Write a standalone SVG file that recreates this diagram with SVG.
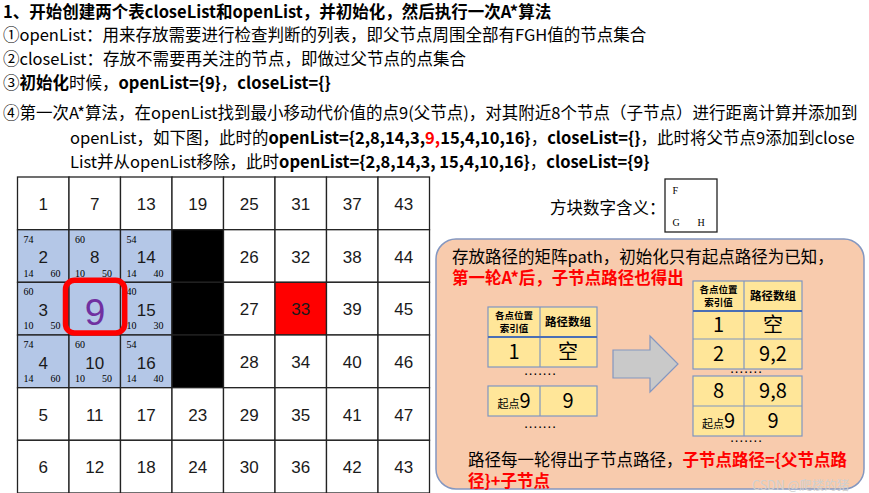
<svg xmlns="http://www.w3.org/2000/svg" width="869" height="493" viewBox="0 0 869 493">
<style>
.t{font-family:"Noto Sans CJK SC","Noto Sans",sans-serif;font-size:16.5px;fill:#000}
.b{font-weight:bold}
.r{fill:#FF0000}
.cell{stroke:#222;stroke-width:1.3}
.w{fill:#fff}
.bl{fill:#B4C7E7}
.k{fill:#000}
.rd{fill:#FF0000}
.n{font-family:"Liberation Sans",Arial,sans-serif;font-size:17px;text-anchor:middle;fill:#1a1a1a}
.s{font-family:"Liberation Serif","Times New Roman",serif;font-size:10px;fill:#000}
.tb{fill:#FFE699;stroke:#7F96C2;stroke-width:1.2}
.tl{stroke:#7F96C2;stroke-width:1.2}
.th{stroke:#4A6FB5;stroke-width:2}
.hd{font-family:"Noto Sans CJK SC",sans-serif;font-weight:bold;font-size:9.5px;text-anchor:middle;fill:#000}
.hd2{font-family:"Noto Sans CJK SC",sans-serif;font-weight:bold;font-size:11.5px;text-anchor:middle;fill:#000}
.v{font-family:"Noto Sans CJK SC",sans-serif;font-size:20px;text-anchor:middle;fill:#000}
.dots{font-family:"Liberation Sans",sans-serif;font-size:14px;text-anchor:middle;fill:#000}
</style>

<g id="header-text">
<text class="t b" x="3" y="18">1、开始创建两个表closeList和openList，并初始化，然后执行一次A*算法</text>
<text class="t" x="3" y="40.5">①openList：用来存放需要进行检查判断的列表，即父节点周围全部有FGH值的节点集合</text>
<text class="t" x="3" y="65">②closeList：存放不需要再关注的节点，即做过父节点的点集合</text>
<text class="t" x="3" y="89">③<tspan class="b">初始化</tspan>时候，<tspan class="b">openList={9}</tspan>，<tspan class="b">closeList={}</tspan></text>
<text class="t" x="3" y="118.5">④第一次A*算法，在openList找到最小移动代价值的点9(父节点)，对其附近8个节点（子节点）进行距离计算并添加到</text>
<text class="t" x="70" y="143.5">openList，如下图，此时的<tspan class="b">openList={2,8,14,3,</tspan><tspan class="b r">9,</tspan><tspan class="b">15,4,10,16}</tspan>，<tspan class="b">closeList={}</tspan>，此时将父节点9添加到close</text>
<text class="t" x="70" y="168">List并从openList移除，此时<tspan class="b">openList={2,8,14,3, 15,4,10,16}</tspan>，<tspan class="b">closeList={9}</tspan></text>
</g>

<g id="grid">
<g id="cell-1"><rect class="cell w" x="17.5" y="177" width="51.5" height="52.7"/><text class="n" x="43.25" y="210">1</text></g>
<g id="cell-2"><rect class="cell bl" x="17.5" y="229.7" width="51.5" height="52.6"/><text class="s" x="23.5" y="242.7">74</text><text class="n" x="43.25" y="263.2">2</text><text class="s" x="23.5" y="276.7">14</text><text class="s" x="50.5" y="276.7">60</text></g>
<g id="cell-3"><rect class="cell bl" x="17.5" y="282.3" width="51.5" height="52.7"/><text class="s" x="23.5" y="295.3">60</text><text class="n" x="43.25" y="315.8">3</text><text class="s" x="23.5" y="329.3">10</text><text class="s" x="50.5" y="329.3">50</text></g>
<g id="cell-4"><rect class="cell bl" x="17.5" y="335" width="51.5" height="52.7"/><text class="s" x="23.5" y="348">74</text><text class="n" x="43.25" y="368.5">4</text><text class="s" x="23.5" y="382">14</text><text class="s" x="50.5" y="382">60</text></g>
<g id="cell-5"><rect class="cell w" x="17.5" y="387.7" width="51.5" height="52.6"/><text class="n" x="43.25" y="420.7">5</text></g>
<g id="cell-6"><rect class="cell w" x="17.5" y="440.3" width="51.5" height="52.7"/><text class="n" x="43.25" y="473.3">6</text></g>
<g id="cell-7"><rect class="cell w" x="69" y="177" width="51.5" height="52.7"/><text class="n" x="94.75" y="210">7</text></g>
<g id="cell-8"><rect class="cell bl" x="69" y="229.7" width="51.5" height="52.6"/><text class="s" x="75" y="242.7">60</text><text class="n" x="94.75" y="263.2">8</text><text class="s" x="75" y="276.7">10</text><text class="s" x="102" y="276.7">50</text></g>
<g id="cell-9"><rect class="cell bl" x="69" y="282.3" width="51.5" height="52.7"/><text x="95" y="325" style="font-family:'Liberation Sans',Arial,sans-serif;font-size:37px;text-anchor:middle;fill:#7030A0">9</text></g>
<g id="cell-10"><rect class="cell bl" x="69" y="335" width="51.5" height="52.7"/><text class="s" x="75" y="348">60</text><text class="n" x="94.75" y="368.5">10</text><text class="s" x="75" y="382">10</text><text class="s" x="102" y="382">50</text></g>
<g id="cell-11"><rect class="cell w" x="69" y="387.7" width="51.5" height="52.6"/><text class="n" x="94.75" y="420.7">11</text></g>
<g id="cell-12"><rect class="cell w" x="69" y="440.3" width="51.5" height="52.7"/><text class="n" x="94.75" y="473.3">12</text></g>
<g id="cell-13"><rect class="cell w" x="120.5" y="177" width="51.5" height="52.7"/><text class="n" x="146.25" y="210">13</text></g>
<g id="cell-14"><rect class="cell bl" x="120.5" y="229.7" width="51.5" height="52.6"/><text class="s" x="126.5" y="242.7">54</text><text class="n" x="146.25" y="263.2">14</text><text class="s" x="126.5" y="276.7">14</text><text class="s" x="153.5" y="276.7">40</text></g>
<g id="cell-15"><rect class="cell bl" x="120.5" y="282.3" width="51.5" height="52.7"/><text class="s" x="126.5" y="295.3">40</text><text class="n" x="146.25" y="315.8">15</text><text class="s" x="126.5" y="329.3">10</text><text class="s" x="153.5" y="329.3">30</text></g>
<g id="cell-16"><rect class="cell bl" x="120.5" y="335" width="51.5" height="52.7"/><text class="s" x="126.5" y="348">54</text><text class="n" x="146.25" y="368.5">16</text><text class="s" x="126.5" y="382">14</text><text class="s" x="153.5" y="382">40</text></g>
<g id="cell-17"><rect class="cell w" x="120.5" y="387.7" width="51.5" height="52.6"/><text class="n" x="146.25" y="420.7">17</text></g>
<g id="cell-18"><rect class="cell w" x="120.5" y="440.3" width="51.5" height="52.7"/><text class="n" x="146.25" y="473.3">18</text></g>
<g id="cell-19"><rect class="cell w" x="172" y="177" width="51.5" height="52.7"/><text class="n" x="197.75" y="210">19</text></g>
<g id="cell-20"><rect class="cell k" x="172" y="229.7" width="51.5" height="52.6"/></g>
<g id="cell-21"><rect class="cell k" x="172" y="282.3" width="51.5" height="52.7"/></g>
<g id="cell-22"><rect class="cell k" x="172" y="335" width="51.5" height="52.7"/></g>
<g id="cell-23"><rect class="cell w" x="172" y="387.7" width="51.5" height="52.6"/><text class="n" x="197.75" y="420.7">23</text></g>
<g id="cell-24"><rect class="cell w" x="172" y="440.3" width="51.5" height="52.7"/><text class="n" x="197.75" y="473.3">24</text></g>
<g id="cell-25"><rect class="cell w" x="223.5" y="177" width="51.5" height="52.7"/><text class="n" x="249.25" y="210">25</text></g>
<g id="cell-26"><rect class="cell w" x="223.5" y="229.7" width="51.5" height="52.6"/><text class="n" x="249.25" y="262.7">26</text></g>
<g id="cell-27"><rect class="cell w" x="223.5" y="282.3" width="51.5" height="52.7"/><text class="n" x="249.25" y="315.3">27</text></g>
<g id="cell-28"><rect class="cell w" x="223.5" y="335" width="51.5" height="52.7"/><text class="n" x="249.25" y="368">28</text></g>
<g id="cell-29"><rect class="cell w" x="223.5" y="387.7" width="51.5" height="52.6"/><text class="n" x="249.25" y="420.7">29</text></g>
<g id="cell-30"><rect class="cell w" x="223.5" y="440.3" width="51.5" height="52.7"/><text class="n" x="249.25" y="473.3">30</text></g>
<g id="cell-31"><rect class="cell w" x="275" y="177" width="51.5" height="52.7"/><text class="n" x="300.75" y="210">31</text></g>
<g id="cell-32"><rect class="cell w" x="275" y="229.7" width="51.5" height="52.6"/><text class="n" x="300.75" y="262.7">32</text></g>
<g id="cell-33"><rect class="cell rd" x="275" y="282.3" width="51.5" height="52.7"/><text class="n" x="300.75" y="315.3">33</text></g>
<g id="cell-34"><rect class="cell w" x="275" y="335" width="51.5" height="52.7"/><text class="n" x="300.75" y="368">34</text></g>
<g id="cell-35"><rect class="cell w" x="275" y="387.7" width="51.5" height="52.6"/><text class="n" x="300.75" y="420.7">35</text></g>
<g id="cell-36"><rect class="cell w" x="275" y="440.3" width="51.5" height="52.7"/><text class="n" x="300.75" y="473.3">36</text></g>
<g id="cell-37"><rect class="cell w" x="326.5" y="177" width="51.5" height="52.7"/><text class="n" x="352.25" y="210">37</text></g>
<g id="cell-38"><rect class="cell w" x="326.5" y="229.7" width="51.5" height="52.6"/><text class="n" x="352.25" y="262.7">38</text></g>
<g id="cell-39"><rect class="cell w" x="326.5" y="282.3" width="51.5" height="52.7"/><text class="n" x="352.25" y="315.3">39</text></g>
<g id="cell-40"><rect class="cell w" x="326.5" y="335" width="51.5" height="52.7"/><text class="n" x="352.25" y="368">40</text></g>
<g id="cell-41"><rect class="cell w" x="326.5" y="387.7" width="51.5" height="52.6"/><text class="n" x="352.25" y="420.7">41</text></g>
<g id="cell-42"><rect class="cell w" x="326.5" y="440.3" width="51.5" height="52.7"/><text class="n" x="352.25" y="473.3">42</text></g>
<g id="cell-43"><rect class="cell w" x="378" y="177" width="51.5" height="52.7"/><text class="n" x="403.75" y="210">43</text></g>
<g id="cell-44"><rect class="cell w" x="378" y="229.7" width="51.5" height="52.6"/><text class="n" x="403.75" y="262.7">44</text></g>
<g id="cell-45"><rect class="cell w" x="378" y="282.3" width="51.5" height="52.7"/><text class="n" x="403.75" y="315.3">45</text></g>
<g id="cell-46"><rect class="cell w" x="378" y="335" width="51.5" height="52.7"/><text class="n" x="403.75" y="368">46</text></g>
<g id="cell-47"><rect class="cell w" x="378" y="387.7" width="51.5" height="52.6"/><text class="n" x="403.75" y="420.7">47</text></g>
<g id="cell-48"><rect class="cell w" x="378" y="440.3" width="51.5" height="52.7"/><text class="n" x="403.75" y="473.3">43</text></g>
</g>

<g id="parent-highlight">
<rect x="65.5" y="280.3" width="59.2" height="52.7" rx="9" fill="none" stroke="#FF0000" stroke-width="5.5"/>
</g>

<g id="legend">
<text class="t" x="550" y="214">方块数字含义：</text>
<rect x="665" y="179" width="52" height="53" fill="#fff" stroke="#222" stroke-width="1.3"/>
<text class="s" x="672.5" y="194">F</text>
<text class="s" x="672.5" y="226">G</text>
<text class="s" x="697.5" y="226">H</text>
</g>

<g id="path-panel">
<rect x="436" y="239" width="428" height="250" rx="20" fill="#F8CBAD" stroke="#8497C0" stroke-width="1.5"/>
<text class="t" x="452" y="263">存放路径的矩阵path，初始化只有起点路径为已知，</text>
<text class="t b r" x="452" y="284">第一轮A*后，子节点路径也得出</text>
<text class="t" x="468" y="465.5">路径每一轮得出子节点路径，<tspan class="b r">子节点路径={父节点路</tspan></text>
<text class="t b r" x="468" y="487">径}+子节点</text>
</g>

<g id="table-before">
<rect class="tb" x="488" y="307" width="109" height="60"/>
<line class="tl" x1="540" y1="307" x2="540" y2="367"/>
<line class="th" x1="488" y1="337" x2="597" y2="337"/>
<text class="hd" x="514" y="319">各点位置</text>
<text class="hd" x="514" y="331.5">索引值</text>
<text class="hd2" x="568" y="326">路径数组</text>
<text class="v" x="514" y="359">1</text>
<text class="v" x="568" y="359">空</text>
<text class="dots" x="540" y="378">·······</text>
<rect class="tb" x="488" y="386" width="109" height="30"/>
<line class="tl" x1="540" y1="386" x2="540" y2="416"/>
<text class="v" x="514" y="408"><tspan style="font-size:11px">起点</tspan>9</text>
<text class="v" x="568" y="408">9</text>
<text class="dots" x="540" y="431">·······</text>
</g>

<g id="connectors">
<polygon points="613,350 650,350 650,336 678,364 650,392 650,378 613,378" fill="#C9C9C9" stroke="#8497C0" stroke-width="1.2"/>
</g>

<g id="table-after">
<rect class="tb" x="693" y="281" width="109" height="88"/>
<line class="tl" x1="744" y1="281" x2="744" y2="369"/>
<line class="th" x1="693" y1="311" x2="802" y2="311"/>
<line class="tl" x1="693" y1="339" x2="802" y2="339"/>
<text class="hd" x="718.5" y="293">各点位置</text>
<text class="hd" x="718.5" y="305.5">索引值</text>
<text class="hd2" x="773" y="300">路径数组</text>
<text class="v" x="718.5" y="332">1</text>
<text class="v" x="773" y="332">空</text>
<text class="v" x="718.5" y="361">2</text>
<text class="v" x="773" y="361">9,2</text>
<text class="dots" x="746" y="376">·······</text>
<rect class="tb" x="693" y="376" width="109" height="60"/>
<line class="tl" x1="744" y1="376" x2="744" y2="436"/>
<line class="tl" x1="693" y1="406" x2="802" y2="406"/>
<text class="v" x="718.5" y="398">8</text>
<text class="v" x="773" y="398">9,8</text>
<text class="v" x="718.5" y="428"><tspan style="font-size:11px">起点</tspan>9</text>
<text class="v" x="773" y="428">9</text>
<text class="dots" x="746" y="445">·······</text>
</g>

<g id="watermark">
<text x="752" y="490" style="font-family:'Noto Sans CJK SC',sans-serif;font-size:12.5px;fill:#d0d0d0">CSDN @爬楼的猪</text>
</g>
</svg>
